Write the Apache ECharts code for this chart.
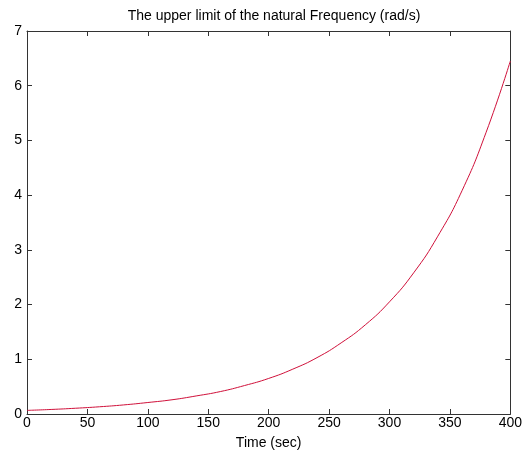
<!DOCTYPE html>
<html>
<head>
<meta charset="utf-8">
<script src="https://cdn.jsdelivr.net/npm/echarts@6/dist/echarts.min.js"></script>
<style>
  html, body { margin: 0; padding: 0; background: #fff; }
  #chart { width: 525px; height: 457px; }
</style>
</head>
<body>
<div id="chart"></div>
<script>
// every 20 s
const timeSec = [0, 20, 40, 60, 80, 100, 120, 140, 160, 180, 200, 220, 240, 260, 280, 300, 320, 340, 360, 380, 400]
const freqUpper = [0.066, 0.083, 0.105, 0.132, 0.166, 0.21, 0.26, 0.33, 0.41, 0.52, 0.65, 0.82, 1.03, 1.30, 1.63, 2.05, 2.58, 3.25, 4.08, 5.15, 6.45]
const xTicks = [0, 50, 100, 150, 200, 250, 300, 350, 400]
const yTicks = [0, 1, 2, 3, 4, 5, 6, 7]

const axisColor = '#333'
const fontFamily = 'Liberation Sans, Arial, sans-serif'

const chart = echarts.init(document.getElementById('chart'))

const points = timeSec.map((t, i) => [t, freqUpper[i]])

const baseX = {
  type: 'value',
  min: xTicks[0],
  max: xTicks[xTicks.length - 1],
  interval: 50,
  axisLine: { show: true, onZero: false, lineStyle: { color: axisColor, width: 1 } },
  axisTick: { show: true, inside: true, length: 5, lineStyle: { color: axisColor } },
  splitLine: { show: false }
}
const baseY = {
  type: 'value',
  min: yTicks[0],
  max: yTicks[yTicks.length - 1],
  interval: 1,
  axisLine: { show: true, onZero: false, lineStyle: { color: axisColor, width: 1 } },
  axisTick: { show: true, inside: true, length: 5, lineStyle: { color: axisColor } },
  splitLine: { show: false }
}

chart.setOption({
  animation: false,
  backgroundColor: '#fff',
  title: {
    text: 'The upper limit of the natural Frequency (rad/s)',
    left: 269,
    textAlign: 'center',
    top: 4,
    textStyle: { fontFamily: fontFamily, fontSize: 14, fontWeight: 'normal', color: '#000' }
  },
  grid: { left: 27, right: 11, top: 31, bottom: 43, containLabel: false },
  xAxis: [
    Object.assign({}, baseX, {
      position: 'bottom',
      name: 'Time (sec)',
      nameLocation: 'middle',
      nameGap: 22,
      nameTextStyle: { fontFamily: fontFamily, fontSize: 14, color: '#000' },
      axisLabel: { show: true, margin: 2, fontFamily: fontFamily, fontSize: 14, color: '#000' }
    }),
    Object.assign({}, baseX, { position: 'top', axisLabel: { show: false } })
  ],
  yAxis: [
    Object.assign({}, baseY, {
      position: 'left',
      axisLabel: { show: true, margin: 5, fontFamily: fontFamily, fontSize: 14, color: '#000' }
    }),
    Object.assign({}, baseY, { position: 'right', axisLabel: { show: false } })
  ],
  series: [{
    type: 'line',
    data: points,
    smooth: true,
    showSymbol: false,
    lineStyle: { color: '#d0103a', width: 1 }
  }]
})
</script>
</body>
</html>
